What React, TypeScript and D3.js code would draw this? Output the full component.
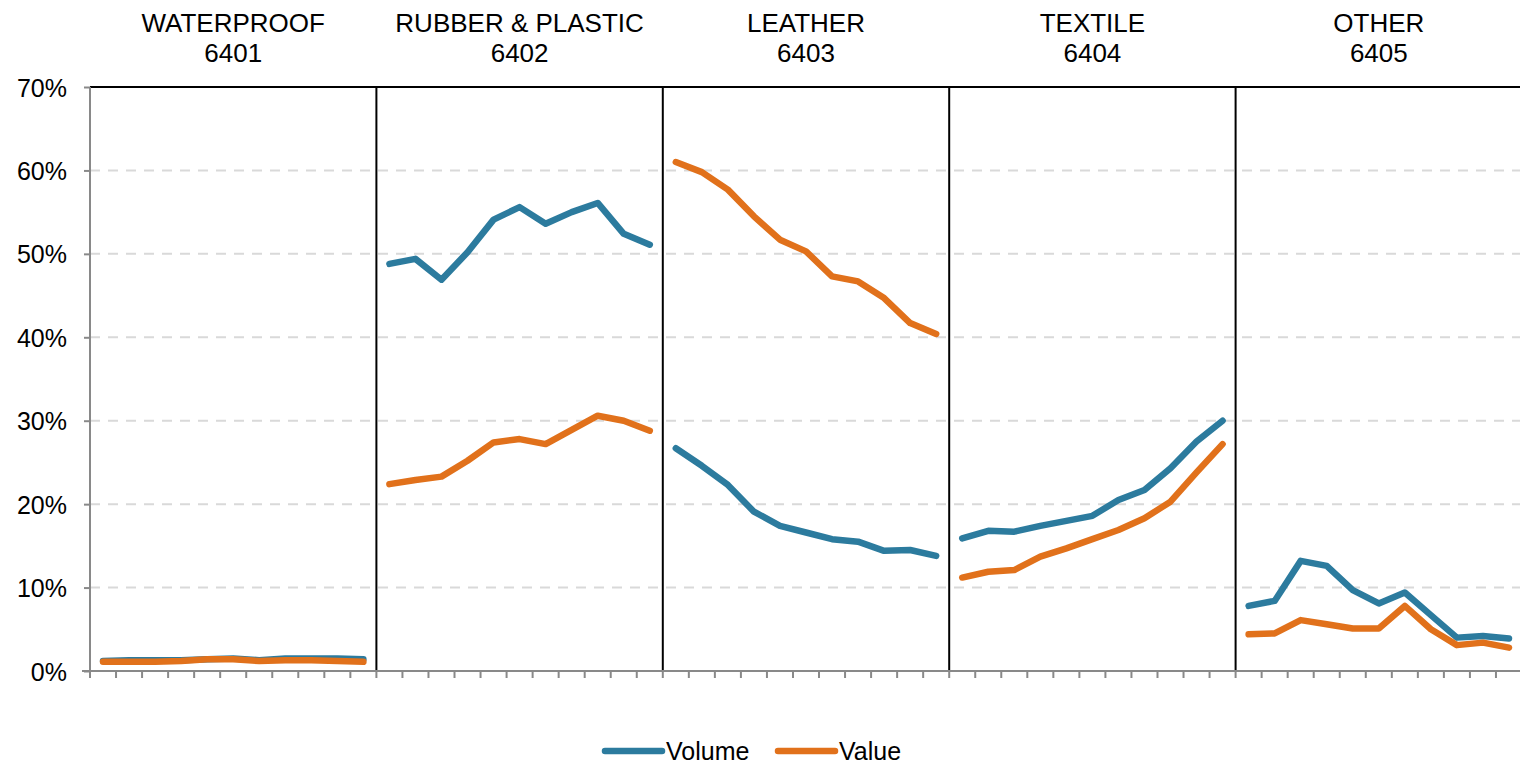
import React, { useEffect, useRef } from 'react';
import * as d3 from 'd3';

const categories = ['WATERPROOF', 'RUBBER & PLASTIC', 'LEATHER', 'TEXTILE', 'OTHER'];
const codes = ['6401', '6402', '6403', '6404', '6405'];

// share of total, % (11 periods per category)
const volume6401 = [1.2, 1.3, 1.3, 1.3, 1.4, 1.5, 1.3, 1.5, 1.5, 1.5, 1.4];
const value6401 = [1.1, 1.1, 1.1, 1.2, 1.4, 1.4, 1.2, 1.3, 1.3, 1.2, 1.1];
const volume6402 = [48.8, 49.4, 46.9, 50.2, 54.1, 55.6, 53.6, 55.0, 56.1, 52.4, 51.1];
const value6402 = [22.4, 22.9, 23.3, 25.2, 27.4, 27.8, 27.2, 28.9, 30.6, 30.0, 28.8];
const volume6403 = [26.7, 24.6, 22.3, 19.1, 17.4, 16.6, 15.8, 15.5, 14.4, 14.5, 13.8];
const value6403 = [61.0, 59.8, 57.7, 54.5, 51.7, 50.3, 47.3, 46.7, 44.7, 41.7, 40.4];
const volume6404 = [15.9, 16.8, 16.7, 17.4, 18.0, 18.6, 20.5, 21.7, 24.3, 27.5, 30.0];
const value6404 = [11.2, 11.9, 12.1, 13.7, 14.7, 15.8, 16.9, 18.3, 20.3, 23.8, 27.2];
const volume6405 = [7.8, 8.4, 13.2, 12.6, 9.7, 8.1, 9.4, 6.7, 4.0, 4.2, 3.9];
const value6405 = [4.4, 4.5, 6.1, 5.6, 5.1, 5.1, 7.8, 5.0, 3.1, 3.4, 2.8];

const volumeSeries = [volume6401, volume6402, volume6403, volume6404, volume6405];
const valueSeries = [value6401, value6402, value6403, value6404, value6405];
const yTicks = [0, 10, 20, 30, 40, 50, 60, 70];

const BLUE = '#2C7B9E';
const ORANGE = '#E1711B';
const FONT = 'Arial, "Liberation Sans", sans-serif';

export default function App() {
  const ref = useRef<SVGSVGElement>(null);

  useEffect(() => {
    if (!ref.current) return;
    const svg = d3.select(ref.current);
    svg.selectAll('*').remove();

    const left = 90, right = 1522, top = 87, bottom = 671;
    const perPanel = volume6401.length;
    const n = categories.length * perPanel;

    const x = d3.scaleBand<number>().domain(d3.range(n)).range([left, right]).paddingInner(0).paddingOuter(0);
    const bw = x.bandwidth();
    const y = d3.scaleLinear().domain([0, 70]).range([bottom, top]);

    // gridlines
    svg.append('g')
      .selectAll('line')
      .data(yTicks.filter(t => t > 0 && t < 70))
      .join('line')
      .attr('x1', left).attr('x2', right)
      .attr('y1', d => y(d)).attr('y2', d => y(d))
      .attr('stroke', '#d9d9d9')
      .attr('stroke-width', 2)
      .attr('stroke-dasharray', '10 8');

    // top border
    svg.append('line')
      .attr('x1', left).attr('x2', right)
      .attr('y1', y(70)).attr('y2', y(70))
      .attr('stroke', '#000').attr('stroke-width', 2);

    // panel separators
    svg.append('g')
      .selectAll('line')
      .data(d3.range(1, categories.length + 1))
      .join('line')
      .attr('x1', i => (x(i * perPanel) ?? right))
      .attr('x2', i => (x(i * perPanel) ?? right))
      .attr('y1', y(70)).attr('y2', bottom)
      .attr('stroke', '#000').attr('stroke-width', 2);

    // y axis
    const yAxis = svg.append('g').attr('transform', `translate(${left},0)`)
      .call(d3.axisLeft(y).tickValues(yTicks).tickSize(6).tickPadding(17).tickFormat(d => `${d}%`));
    yAxis.selectAll('.domain').attr('stroke', '#898989').attr('stroke-width', 2).attr('d', `M0,${bottom}V${top}`);
    yAxis.selectAll('.tick line').attr('stroke', '#898989').attr('stroke-width', 2);
    yAxis.selectAll('.tick text')
      .attr('fill', '#000').style('font-family', FONT).style('font-size', '25px').attr('dy', '0.36em');

    // x axis (ticks at category boundaries)
    const xg = svg.append('g');
    xg.append('line')
      .attr('x1', left - 8).attr('x2', right)
      .attr('y1', bottom).attr('y2', bottom)
      .attr('stroke', '#898989').attr('stroke-width', 2);
    xg.selectAll('line.tk')
      .data(d3.range(n + 1))
      .join('line')
      .attr('class', 'tk')
      .attr('x1', i => left + i * bw).attr('x2', i => left + i * bw)
      .attr('y1', bottom).attr('y2', bottom + 7)
      .attr('stroke', '#898989').attr('stroke-width', 2);

    // panel titles
    categories.forEach((c, p) => {
      const cx = (x(p * perPanel) ?? 0) + (perPanel * bw) / 2;
      const t = svg.append('text')
        .attr('x', cx).attr('text-anchor', 'middle')
        .attr('fill', '#000').style('font-family', FONT).style('font-size', '26px');
      t.append('tspan').attr('x', cx).attr('y', 32).text(c);
      t.append('tspan').attr('x', cx).attr('y', 61.5).text(codes[p]);
    });

    // lines
    const line = d3.line<number>()
      .x((_, i) => i)
      .y(d => y(d));

    const drawSeries = (series: number[][], color: string) => {
      series.forEach((vals, p) => {
        const gen = d3.line<number>()
          .x((_, i) => (x(p * perPanel + i) ?? 0) + bw / 2)
          .y(d => y(d));
        svg.append('path')
          .datum(vals)
          .attr('fill', 'none')
          .attr('stroke', color)
          .attr('stroke-width', 6.5)
          .attr('stroke-linecap', 'round')
          .attr('stroke-linejoin', 'round')
          .attr('d', gen);
      });
    };
    void line;
    drawSeries(volumeSeries, BLUE);
    drawSeries(valueSeries, ORANGE);

    // legend
    const legend = [
      { label: 'Volume', color: BLUE, x: 605 },
      { label: 'Value', color: ORANGE, x: 778 },
    ];
    const lg = svg.append('g');
    legend.forEach(l => {
      lg.append('line')
        .attr('x1', l.x).attr('x2', l.x + 57)
        .attr('y1', 751).attr('y2', 751)
        .attr('stroke', l.color).attr('stroke-width', 6.5).attr('stroke-linecap', 'round');
      lg.append('text')
        .attr('x', l.x + 61).attr('y', 759.5)
        .attr('fill', '#000').style('font-family', FONT).style('font-size', '25px')
        .text(l.label);
    });
  }, []);

  return (
    <div style={{ position: 'absolute', left: 0, top: 0, width: 1520, height: 763, background: '#fff' }}>
      <svg ref={ref} width={1520} height={763} style={{ display: 'block' }} />
    </div>
  );
}
